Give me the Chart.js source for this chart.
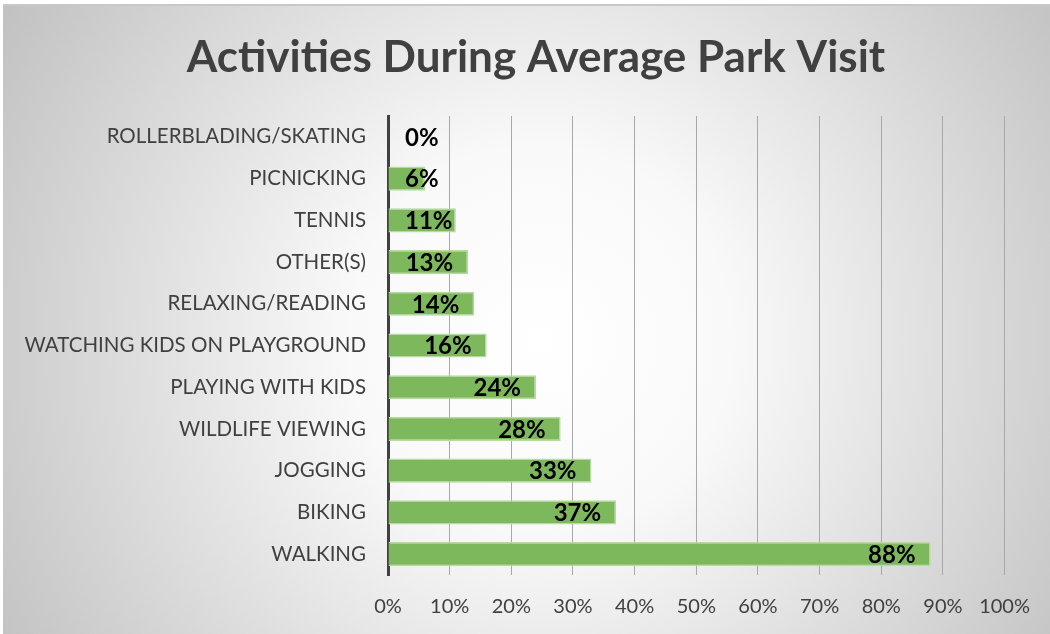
<!DOCTYPE html>
<html>
<head>
<meta charset="utf-8">
<script src="https://cdn.jsdelivr.net/npm/chart.js@4"></script>
<style>
  html, body { margin: 0; padding: 0; background: #fff; }
  #wrap { width: 1050px; height: 634px; }
</style>
</head>
<body>
<div id="wrap"><canvas id="chart"></canvas></div>
<script>
    // data
    var activities = [
        'ROLLERBLADING/SKATING',
        'PICNICKING',
        'TENNIS',
        'OTHER(S)',
        'RELAXING/READING',
        'WATCHING KIDS ON PLAYGROUND',
        'PLAYING WITH KIDS',
        'WILDLIFE VIEWING',
        'JOGGING',
        'BIKING',
        'WALKING'
    ];
    var percents = [0, 6, 11, 13, 14, 16, 24, 28, 33, 37, 88];
    var xMin = 0, xMax = 100, xStep = 10;
    var chartTitle = 'Activities During Average Park Visit';

    var textGray = '#404040';

    // gray radial background behind everything, plus the title
    // (title drawn by hand: in the original it is centred on the whole box, not the padded area)
    var backdrop = {
        id: 'backdrop',
        beforeDraw: function (chart) {
            var c = chart.ctx, w = chart.width, h = chart.height;
            c.save();
            c.fillStyle = '#ffffff';
            c.fillRect(0, 0, w, h);
            var g = c.createRadialGradient(540, 340, 0, 540, 340, 640);
            g.addColorStop(0, '#ffffff');
            g.addColorStop(0.3, '#f9f9f9');
            g.addColorStop(1, '#c0c0c0');
            c.fillStyle = g;
            c.fillRect(3, 5, w - 3, h - 5);
            c.fillStyle = '#c8c8c8';
            c.fillRect(3, 4, w - 3, 2);

            c.font = 'bold 44px Lato';
            c.fillStyle = textGray;
            c.textAlign = 'center';
            c.textBaseline = 'middle';
            c.fillText(chartTitle, 536, 58);
            c.restore();
        }
    };

    // value labels at the inside end of each bar
    var barLabels = {
        id: 'barLabels',
        afterDatasetsDraw: function (chart) {
            var c = chart.ctx;
            var meta = chart.getDatasetMeta(0);
            var base = chart.scales.x.getPixelForValue(0);
            c.save();
            c.font = 'bold 24px Lato';
            c.fillStyle = '#000000';
            c.textAlign = 'right';
            c.textBaseline = 'middle';
            meta.data.forEach(function (bar, i) {
                var txt = percents[i] + '%';
                var w = c.measureText(txt).width;
                var right = Math.max(bar.x - 15, base + 17 + w);
                c.fillText(txt, right, bar.y + 1);
            });
            c.restore();
        }
    };

    new Chart(document.getElementById('chart'), {
        type: 'bar',
        data: {
            labels: activities,
            datasets: [{
                data: percents,
                backgroundColor: 'rgba(126, 184, 93, 1)',
                borderColor: '#b7daa2',
                borderWidth: 1.5,
                barPercentage: 0.58,
                categoryPercentage: 1.0
            }]
        },
        options: {
            indexAxis: 'y',
            responsive: true,
            maintainAspectRatio: false,
            animation: false,
            layout: { padding: { left: 0, right: 43, top: 116, bottom: 0 } },
            scales: {
                x: {
                    min: xMin,
                    max: xMax,
                    ticks: {
                        stepSize: xStep,
                        color: textGray,
                        padding: 20,
                        font: { family: 'Lato', size: 20 },
                        callback: function (v) { return v + '%'; }
                    },
                    grid: { color: '#a8a8a8', lineWidth: 1, drawTicks: false },
                    border: { display: false },
                    afterFit: function (scale) { scale.height = 59; }
                },
                y: {
                    ticks: {
                        color: textGray,
                        padding: 22,
                        font: { family: 'Lato', size: 20.5 }
                    },
                    grid: { display: false, drawTicks: false },
                    border: { display: true, color: '#404040', width: 3 },
                    afterFit: function (scale) { scale.width = 388; }
                }
            },
            plugins: {
                legend: { display: false },
                tooltip: { enabled: false },
                title: { display: false }
            }
        },
        plugins: [backdrop, barLabels]
    });
</script>
</body>
</html>
